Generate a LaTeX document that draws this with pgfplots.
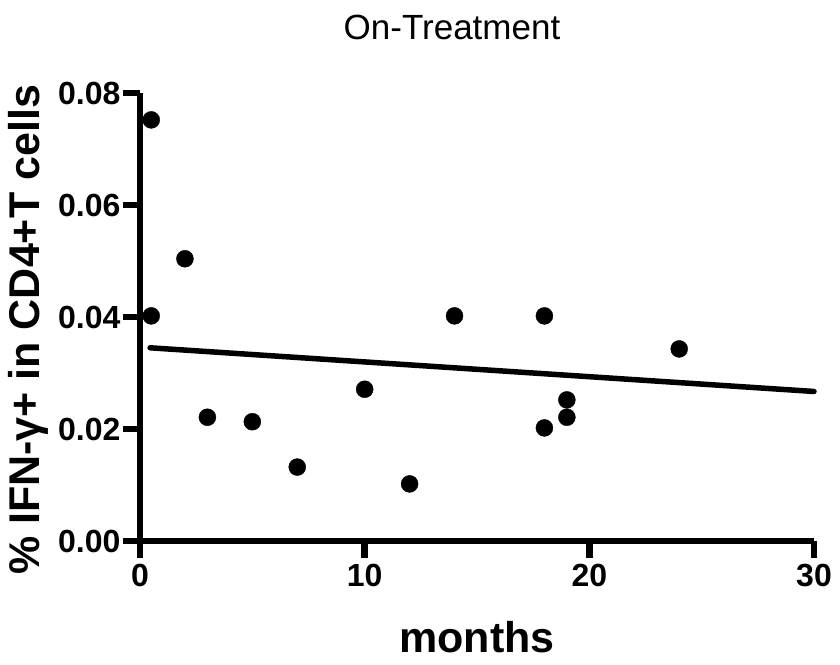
\documentclass[border=0pt]{standalone}
\usepackage{pgfplots}
\pgfplotsset{compat=1.18}
\usepackage{fontspec}
\setmainfont{Liberation Sans}
\begin{document}
\begin{tikzpicture}
\path[use as bounding box] (-140pt,-123pt) rectangle (700pt,541pt);
\begin{axis}[
  at={(0pt,0pt)}, anchor=south west,
  scale only axis, width=674pt, height=448pt,
  xmin=0, xmax=30, ymin=0, ymax=0.08,
  axis lines=left,
  axis line style={-, line width=6.5pt},
  tick style={black, line width=6.5pt},
  major tick style={black, line width=6.5pt},
  major tick length=17pt,
  tick align=outside,
  xtick={0,10,20,30}, ytick={0,0.02,0.04,0.06,0.08},
  minor tick num=0,
  /pgf/number format/assume math mode=true,
  tick label style={font=\fontsize{32}{36}\selectfont\bfseries},
  yticklabel style={/pgf/number format/fixed, /pgf/number format/precision=2, /pgf/number format/fixed zerofill, xshift=1pt},
  scaled y ticks=false,
  xticklabel style={yshift=-3pt},
  xlabel={months},
  ylabel={\% IFN-γ+ in CD4+T cells},
  label style={font=\fontsize{43}{48}\selectfont\bfseries},
  xlabel style={at={(axis description cs:0.5,-0.214)}, anchor=center},
  ylabel style={at={(axis description cs:-0.165,0.471)}, anchor=center, rotate=0},
  clip=false,
]
\addplot[only marks, mark=*, mark size=8.5pt, black] coordinates {
  (0.5,0.0752) (0.5,0.0402) (2,0.0504) (3,0.0221) (5,0.0213) (7,0.0132)
  (10,0.0271) (12,0.0102) (14,0.0402) (18,0.0402) (18,0.0202)
  (19,0.0252) (19,0.0221) (24,0.0343)
};
\addplot[black, line width=5.5pt, line cap=round] coordinates {(0.45,0.0345) (30,0.0267)};
\end{axis}
\node[font=\fontsize{35}{40}\selectfont, anchor=center] at (312pt,514pt) {On-Treatment};
\end{tikzpicture}
\end{document}
